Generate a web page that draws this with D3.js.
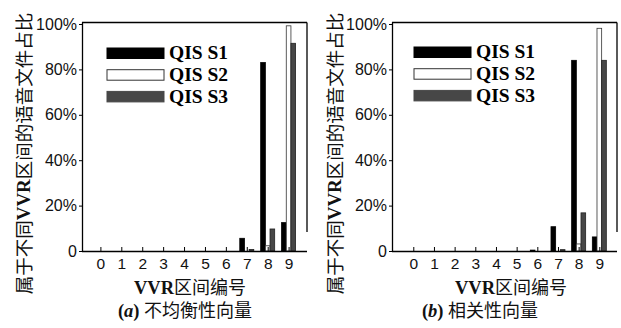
<!DOCTYPE html>
<html><head><meta charset="utf-8">
<script src="https://cdn.jsdelivr.net/npm/d3@7"></script>
<style>
html,body{margin:0;padding:0;background:#fff;}
svg{display:block;}
</style></head>
<body>
<svg id="chart" width="621" height="328"></svg>
<script>
// ---- data ----
const categories = [0,1,2,3,4,5,6,7,8,9];
const seriesNames = ["QIS S1","QIS S2","QIS S3"];
const panelA_S1 = [0,0,0,0,0,0,0,5.6,83.0,12.5];
const panelA_S2 = [0,0,0,0,0,0,0,0,2.3,99.2];
const panelA_S3 = [0,0,0,0,0,0,0,0.7,9.7,91.5];
const panelB_S1 = [0,0,0,0,0,0,0.4,10.7,84.0,6.2];
const panelB_S2 = [0,0,0,0,0,0,0,0,3.1,98.1];
const panelB_S3 = [0,0,0,0,0,0,0,0.6,16.8,84.0];
const yTicks = [0,20,40,60,80,100];
const yTickLabels = ["0","20%","40%","60%","80%","100%"];
const yTitleCJK1 = "属于不同";
const yTitleLatin = "VVR";
const yTitleCJK2 = "区间的语音文件占比";
const xTitleLatin = "VVR";
const xTitleCJK = "区间编号";
const captionA = ["a","不均衡性向量"];
const captionB = ["b","相关性向量"];

const fills = ["#000000","#ffffff","#474747"];
const strokes = ["#000000","#333333","#222222"];

const svg = d3.select("#chart");

function panel(cfg){
  const g = svg.append("g");
  const x = d3.scaleLinear().domain(cfg.xDomain).range([cfg.left, cfg.right]);
  const y = d3.scaleLinear().domain([0,100]).range([251, 24]);
  const sub = d3.scaleBand().domain(seriesNames).range([-7,7]).padding(0);
  const series = [cfg.s1, cfg.s2, cfg.s3];

  // bars
  series.forEach((vals, si) => {
    g.append("g").selectAll("rect").data(categories).join("rect")
      .attr("x", d => x(d) + sub(seriesNames[si]))
      .attr("width", sub.bandwidth())
      .attr("y", (d,i) => y(vals[i]))
      .attr("height", (d,i) => Math.max(0, y(0) - y(vals[i])))
      .attr("fill", fills[si])
      .attr("stroke", (d,i) => vals[i] > 0 ? strokes[si] : "none")
      .attr("stroke-width", 0.8);
  });

  // frame
  const top = 22.5, bottom = 251;
  g.append("line").attr("x1", cfg.left).attr("x2", cfg.right).attr("y1", top).attr("y2", top)
    .attr("stroke","#000").attr("stroke-width",1.3);
  g.append("line").attr("x1", cfg.right).attr("x2", cfg.right).attr("y1", top).attr("y2", 232)
    .attr("stroke","#000").attr("stroke-width",1.3);

  // x axis (ticks inward)
  const xAxis = d3.axisBottom(x).tickValues(categories).tickSize(-4).tickPadding(9)
    .tickFormat(d => String(d));
  const xa = g.append("g").attr("transform", `translate(0,${bottom})`).call(xAxis);
  xa.select(".domain").attr("d", `M${cfg.left},0.5H${cfg.right}`).attr("stroke","#000").attr("stroke-width",1.3);
  xa.selectAll(".tick line").attr("stroke","#000").attr("stroke-width",1);
  xa.selectAll(".tick text").attr("font-family","'Liberation Sans', Arial, sans-serif")
    .attr("font-size","15.5px").attr("fill","#111").attr("dy","0.72em").attr("y", 7);

  // y axis
  const yAxis = d3.axisLeft(y).tickValues(yTicks).tickSize(3).tickPadding(2)
    .tickFormat((d,i) => yTickLabels[i]);
  const ya = g.append("g").attr("transform", `translate(${cfg.left},0)`).call(yAxis);
  ya.select(".domain").attr("d", `M0.5,${top}V${bottom}`).attr("stroke","#000").attr("stroke-width",1.3);
  ya.selectAll(".tick line").attr("stroke","#000");
  ya.selectAll(".tick text").attr("font-family","'Liberation Sans', Arial, sans-serif")
    .attr("font-size","16px").attr("fill","#111");

  // legend
  seriesNames.forEach((nm, si) => {
    const ly = cfg.legendTop + si*21.7;
    g.append("rect").attr("x", cfg.legendX).attr("y", ly).attr("width", 57).attr("height", 10.5)
      .attr("fill", fills[si]).attr("stroke", si===1 ? "#333" : fills[si]).attr("stroke-width", 1);
    g.append("text").attr("x", cfg.legendX + 62).attr("y", ly + 11.3)
      .attr("font-family","'Liberation Serif','Times New Roman',serif").attr("font-weight","bold")
      .attr("font-size","19.5px").attr("fill","#000").text(nm);
  });

  // y title
  const yt = g.append("text").attr("transform", `translate(${cfg.yTitleX},153.5) rotate(-90)`)
    .attr("text-anchor","middle").attr("dominant-baseline","central").attr("fill","#111");
  yt.append("tspan").attr("font-family","'Noto Sans CJK SC',sans-serif").attr("font-size","18.5px").text(yTitleCJK1);
  yt.append("tspan").attr("font-family","'Liberation Serif',serif").attr("font-weight","bold").attr("font-size","19px").text(yTitleLatin);
  yt.append("tspan").attr("font-family","'Noto Sans CJK SC',sans-serif").attr("font-size","18.5px").text(yTitleCJK2);

  // x title
  const xt = g.append("text").attr("x", cfg.xTitleX).attr("y", 294).attr("text-anchor","middle").attr("fill","#111");
  xt.append("tspan").attr("font-family","'Liberation Serif',serif").attr("font-weight","bold").attr("font-size","18.5px").text(xTitleLatin);
  xt.append("tspan").attr("font-family","'Noto Sans CJK SC',sans-serif").attr("font-size","18px").text(xTitleCJK);

  // caption
  const ct = g.append("text").attr("x", cfg.captionX).attr("y", 317).attr("text-anchor","middle").attr("fill","#111");
  ct.append("tspan").attr("font-family","'Liberation Serif',serif").attr("font-weight","bold").attr("font-size","18.5px").text("(");
  ct.append("tspan").attr("font-family","'Liberation Serif',serif").attr("font-weight","bold").attr("font-style","italic").attr("font-size","18.5px").text(cfg.caption[0]);
  ct.append("tspan").attr("font-family","'Liberation Serif',serif").attr("font-weight","bold").attr("font-size","18.5px").text(") ");
  ct.append("tspan").attr("font-family","'Noto Sans CJK SC',sans-serif").attr("font-size","18px").text(cfg.caption[1]);
}

panel({left:82, right:307, xDomain:[-0.88, 9.88], s1:panelA_S1, s2:panelA_S2, s3:panelA_S3,
  legendX:107, legendTop:48, yTitleX:23, xTitleX:190, captionX:185, caption:captionA});
panel({left:392, right:617, xDomain:[-1.03, 9.855], s1:panelB_S1, s2:panelB_S2, s3:panelB_S3,
  legendX:414, legendTop:47, yTitleX:334, xTitleX:511, captionX:480, caption:captionB});
</script>
</body></html>
